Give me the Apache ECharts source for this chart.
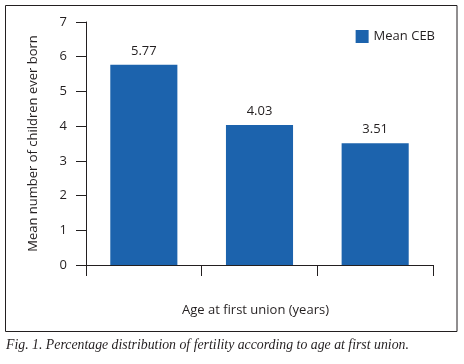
<!DOCTYPE html>
<html>
<head>
<meta charset="utf-8">
<script src="https://cdn.jsdelivr.net/npm/echarts@6/dist/echarts.min.js"></script>
<style>
  html, body { margin: 0; padding: 0; background: #fff; }
  #chart { width: 464px; height: 364px; }
</style>
</head>
<body>
<div id="chart"></div>
<script>
// groups have no printed labels in the figure
var categories = ["", "", ""];
var meanCEB = [5.77, 4.03, 3.51];
var yTicks = [0, 1, 2, 3, 4, 5, 6, 7];

var textColor = "#231f20";
var font = "'Open Sans', sans-serif";

var chartDom = document.getElementById("chart");
var myChart = echarts.init(chartDom, null, { renderer: "canvas" });

var option = {
  animation: false,
  grid: { left: 86, right: 31, top: 22, bottom: 99 },
  legend: {
    data: ["Mean CEB"],
    icon: "rect",
    right: 29,
    top: 30,
    padding: 0,
    itemWidth: 13,
    itemHeight: 13,
    textStyle: { color: textColor, fontFamily: font, fontSize: 13 }
  },
  xAxis: {
    type: "category",
    data: categories,
    axisLine: { lineStyle: { color: textColor, width: 1 } },
    axisTick: { show: true, length: 11, lineStyle: { color: textColor } },
    axisLabel: { show: false }
  },
  yAxis: {
    type: "value",
    min: yTicks[0],
    max: yTicks[yTicks.length - 1],
    interval: 1,
    name: "Mean number of children ever born",
    nameLocation: "middle",
    nameGap: 46,
    nameTextStyle: { color: textColor, fontFamily: font, fontSize: 13 },
    axisLine: { show: true, lineStyle: { color: textColor, width: 1 } },
    axisTick: { show: true, length: 10, lineStyle: { color: textColor } },
    axisLabel: { color: textColor, fontFamily: font, fontSize: 13, margin: 19 },
    splitLine: { show: false }
  },
  series: [
    {
      name: "Mean CEB",
      type: "bar",
      data: meanCEB,
      barWidth: "58%",
      itemStyle: { color: "#1c63ad" },
      label: {
        show: true,
        position: "top",
        distance: 7,
        color: textColor,
        fontFamily: font,
        fontSize: 13,
        formatter: function (p) { return p.value.toFixed(2); }
      }
    }
  ],
  graphic: [
    {
      type: "rect",
      shape: { x: 5.5, y: 5.5, width: 451.5, height: 326 },
      style: { fill: null, stroke: textColor, lineWidth: 1 },
      silent: true
    },
    {
      type: "text",
      left: 182,
      top: 304,
      style: {
        text: "Age at first union (years)",
        fill: textColor,
        font: "13px 'Open Sans', sans-serif"
      }
    },
    {
      type: "text",
      left: 6,
      top: 338,
      style: {
        text: "Fig. 1. Percentage distribution of fertility according to age at first union.",
        fill: textColor,
        font: "italic 13.8px 'Liberation Serif', serif"
      }
    }
  ]
};

option && myChart.setOption(option);
</script>
</body>
</html>
